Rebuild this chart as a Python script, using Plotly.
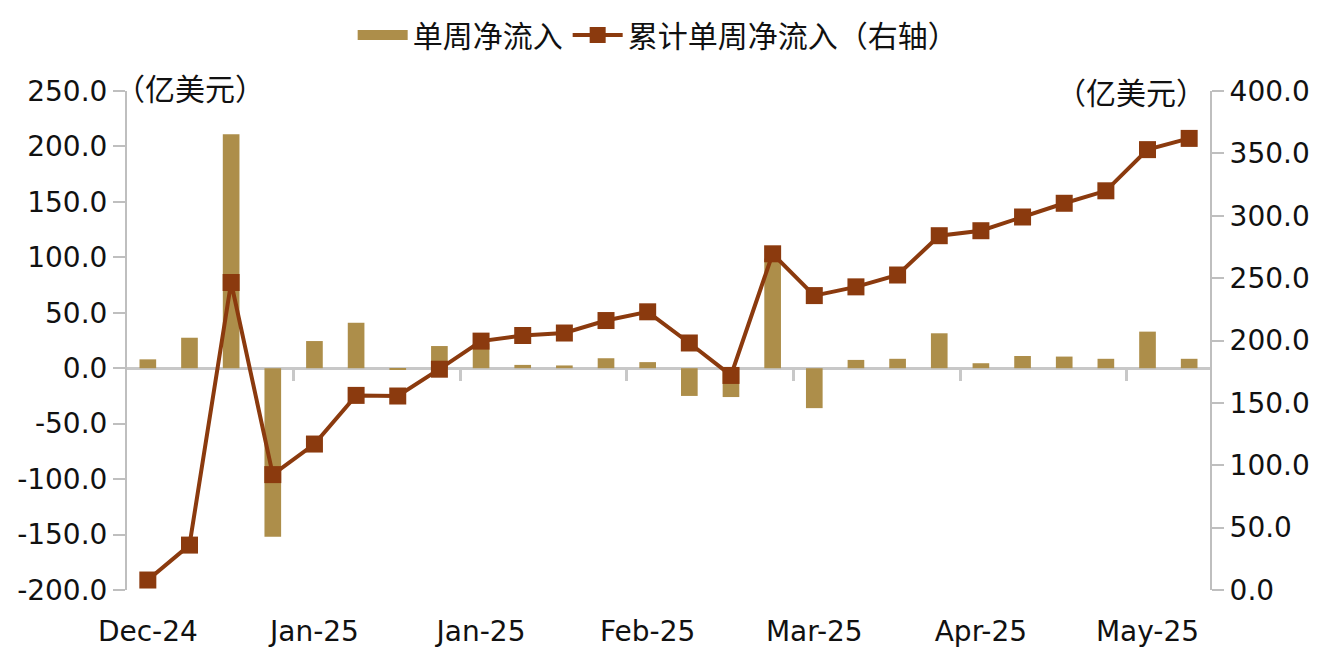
import plotly.graph_objects as go

weeks = [
    "2024-12-06", "2024-12-13", "2024-12-20", "2024-12-27",
    "2025-01-03", "2025-01-10", "2025-01-17", "2025-01-24",
    "2025-01-31", "2025-02-07", "2025-02-14", "2025-02-21",
    "2025-02-28", "2025-03-07", "2025-03-14", "2025-03-21",
    "2025-03-28", "2025-04-04", "2025-04-11", "2025-04-18",
    "2025-04-25", "2025-05-02", "2025-05-09", "2025-05-16",
    "2025-05-23", "2025-05-30",
]
weekly_flow = [
    8, 27.5, 211, -152, 24.5, 41, -1.5, 20, 22, 3, 2.5, 9, 5.5,
    -25, -26, 99, -36, 7.5, 8.5, 31.5, 4.5, 11, 10.5, 8.5, 33, 8.5,
]
cum_flow = [
    8, 36, 246.5, 92.5, 117, 156, 155.5, 177, 199.5, 204, 206, 216, 223,
    198, 172, 269.5, 236, 243, 252.5, 284, 288, 299, 310, 320, 353, 362,
]
x_tick_labels = ["Dec-24", "Jan-25", "Jan-25", "Feb-25", "Mar-25", "Apr-25", "May-25"]
left_ticks = [-200, -150, -100, -50, 0, 50, 100, 150, 200, 250]
right_ticks = [0, 50, 100, 150, 200, 250, 300, 350, 400]

BAR = "#AD8E4A"
LINE = "#8B3A0E"
AXIS = "#BFBFBF"
FONT = "DejaVu Sans, Noto Sans CJK SC, sans-serif"
CJK = "Noto Sans CJK SC, sans-serif"

n = len(weeks)

fig = go.Figure()

# legend swatch for the bars (wide rectangle like the original)
fig.add_trace(
    go.Scatter(
        x=[None], y=[None], name="单周净流入", mode="lines",
        line=dict(color=BAR, width=20), hoverinfo="skip",
    )
)

fig.add_trace(
    go.Bar(
        x=weeks,
        y=weekly_flow,
        name="单周净流入",
        marker=dict(color=BAR, line=dict(width=0)),
        width=0.4,
        showlegend=False,
    )
)

fig.add_trace(
    go.Scatter(
        x=weeks,
        y=cum_flow,
        name="累计单周净流入（右轴）",
        yaxis="y2",
        mode="lines+markers",
        line=dict(color=LINE, width=4),
        marker=dict(symbol="square", size=17, color=LINE),
    )
)

# helper trace so the tick-only axis is rendered
fig.add_trace(
    go.Scatter(x=[None], y=[None], xaxis="x2", showlegend=False, hoverinfo="skip")
)

# page body has an 8px margin, so margins are shifted to compensate
fig.update_layout(
    width=1323,
    height=660,
    margin=dict(l=119, r=121, t=83, b=78, autoexpand=False),
    plot_bgcolor="white",
    paper_bgcolor="white",
    font=dict(family=FONT, size=28, color="#111111"),
    bargap=0.6,
    showlegend=True,
    legend=dict(
        orientation="h",
        x=0.49,
        xanchor="center",
        y=1.112,
        yanchor="middle",
        font=dict(family=CJK, size=30),
        traceorder="normal",
        itemwidth=50,
    ),
    xaxis=dict(
        type="category",
        range=[-0.5, n - 0.5],
        tickvals=weeks[::4],
        ticktext=x_tick_labels,
        ticks="",
        showline=False,
        showgrid=False,
        ticklabelstandoff=22,
    ),
    xaxis2=dict(
        overlaying="x",
        range=[-0.5, n - 0.5],
        anchor="free",
        position=200 / 450,
        tickvals=[i - 0.5 for i in range(4, n, 4)],
        ticks="outside",
        ticklen=12,
        tickwidth=3,
        tickcolor="#C8C8C8",
        showticklabels=False,
        showline=False,
        showgrid=False,
        zeroline=False,
    ),
    yaxis=dict(
        range=[-200, 250],
        tickvals=left_ticks,
        ticktext=[f"{v:.1f}" for v in left_ticks],
        showline=True,
        linecolor=AXIS,
        linewidth=2,
        ticks="outside",
        ticklen=12,
        tickwidth=2,
        tickcolor=AXIS,
        showgrid=False,
        zeroline=True,
        zerolinecolor="#C8C8C8",
        zerolinewidth=3,
    ),
    yaxis2=dict(
        range=[0, 400],
        overlaying="y",
        side="right",
        tickvals=right_ticks,
        ticktext=[f"{v:.1f}" for v in right_ticks],
        showline=True,
        linecolor=AXIS,
        linewidth=2,
        ticks="outside",
        ticklen=12,
        tickwidth=2,
        tickcolor=AXIS,
        showgrid=False,
        zeroline=False,
    ),
)

fig.add_annotation(
    text="（亿美元）", xref="paper", yref="paper", x=0, y=1,
    xanchor="left", yanchor="middle", xshift=-14, yshift=4,
    showarrow=False, font=dict(family=CJK, size=30, color="#111111"),
)
fig.add_annotation(
    text="（亿美元）", xref="paper", yref="paper", x=1, y=1,
    xanchor="right", yanchor="middle", xshift=-2,
    showarrow=False, font=dict(family=CJK, size=30, color="#111111"),
)

fig.write_html("out.html")
